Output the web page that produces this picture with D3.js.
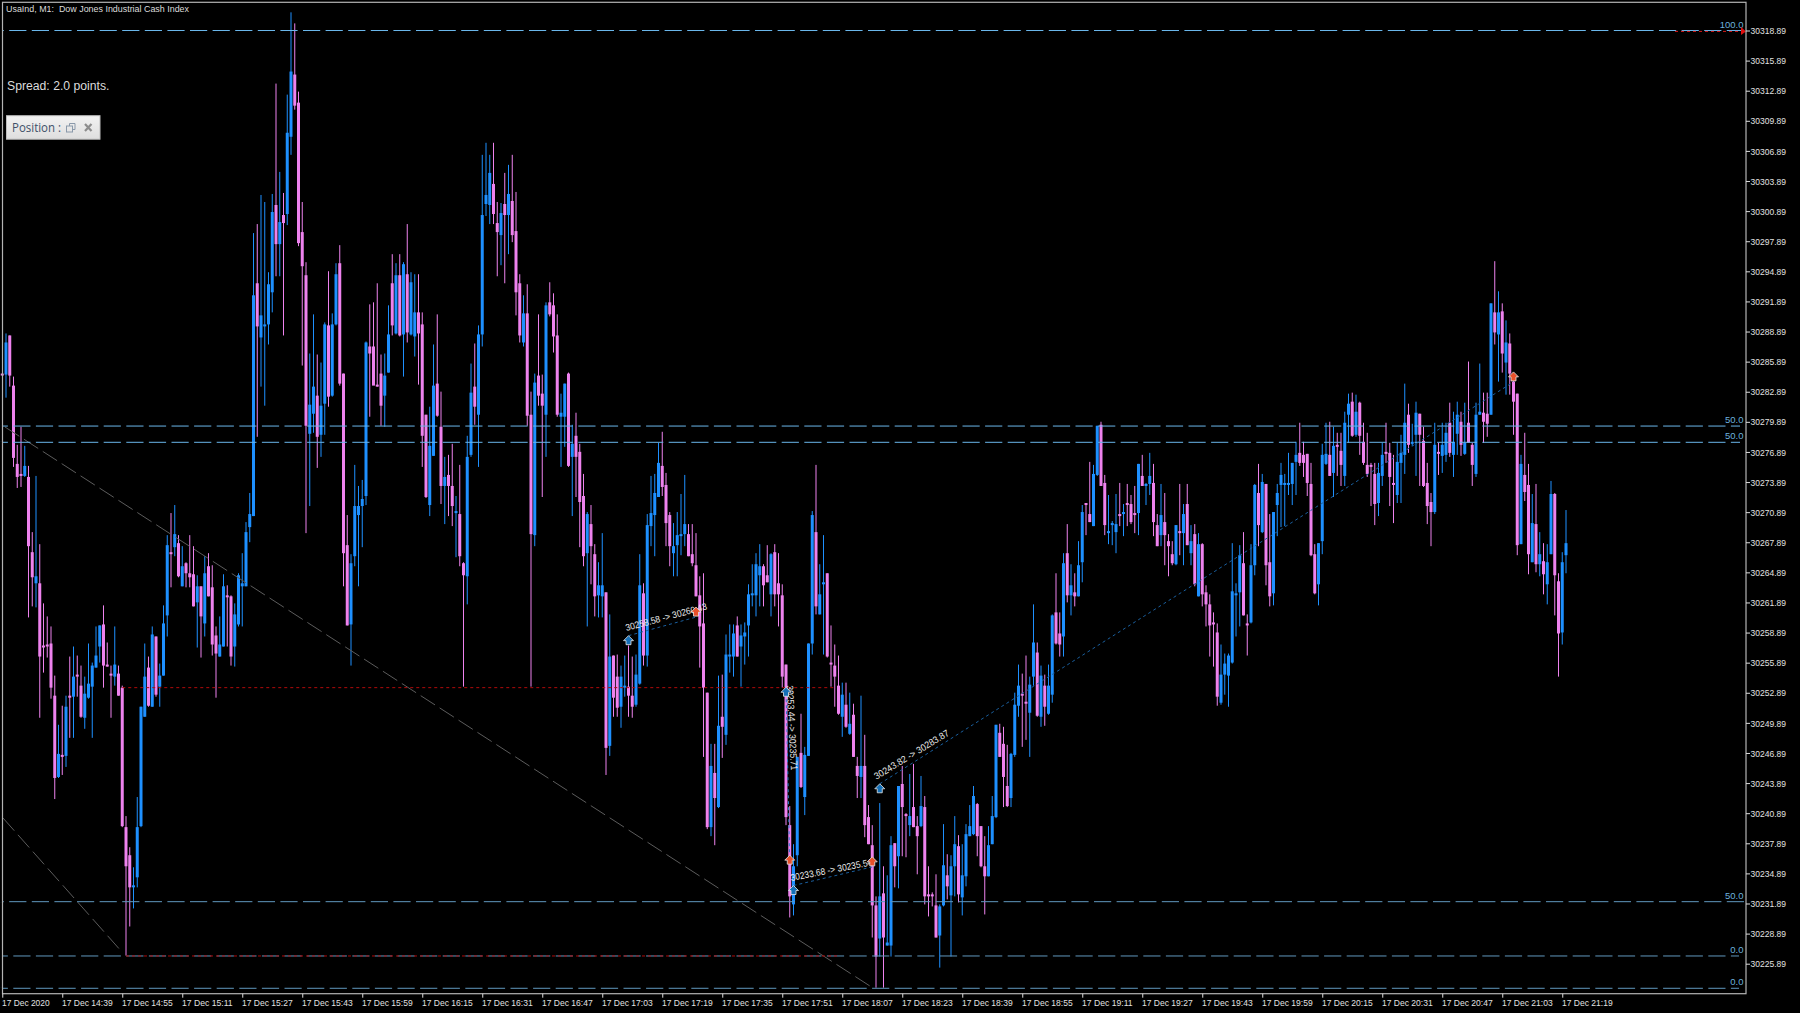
<!DOCTYPE html>
<html><head><meta charset="utf-8">
<script src="https://cdn.jsdelivr.net/npm/d3@7"></script>
<style>html,body{margin:0;padding:0;background:#000;overflow:hidden}svg{display:block}</style>
</head><body><svg id="c" width="1800" height="1013"></svg>
<script>
const priceBase = 30200;
const bodyTops = [84.7,87.8,88.5,83.5,75.7,74.7,75.5,74.4,66.9,64.5,63.8,57.6,57.7,57.8,52.6,46.8,46.7,51.5,52.6,54.5,54.7,53.6,52.8,53.8,55.6,56.6,59.6,59.7,55.7,54.8,55.7,54.8,53.4,39.5,36.7,33.7,39.5,51.5,54.5,55.4,58.7,58.5,54.6,59.8,67.6,66.9,68.7,67.8,65.5,65.8,64.8,64.7,63.5,63.5,64.8,65.5,63.4,58.6,57.7,63.5,62.6,62.5,60.7,64.6,63.8,68.9,70.7,92.5,93.7,90.5,89.6,93.6,100.8,101.5,99.8,100.5,108.7,114.8,114.5,111.7,98.8,94.5,81.6,83.4,82.5,81.5,89.6,89.5,89.6,94.6,95.7,84.7,67.6,65.8,71.5,71.5,72.2,87.8,87.4,87.4,83.6,84.7,84.5,88.6,93.7,94.5,94.5,95.6,94.6,93.8,90.8,90.8,89.6,80.6,77.5,83.5,83.7,79.4,74.4,74.6,73.5,71.0,70.7,65.8,76.4,82.8,83.4,88.6,100.5,102.5,104.7,103.6,99.7,100.7,101.6,102.6,101.9,98.9,93.7,90.7,90.7,80.6,83.8,84.5,82.7,91.5,91.8,91.5,88.5,80.8,83.7,84.7,77.7,78.5,76.9,72.5,70.7,69.7,66.7,63.6,63.6,62.9,56.5,56.6,54.5,54.5,53.6,53.5,52.6,54.7,63.6,62.8,69.6,70.8,72.8,75.8,75.5,73.6,70.6,67.5,68.6,68.7,69.7,68.7,66.7,65.6,62.6,59.8,52.9,45.6,44.9,49.6,50.5,56.7,56.7,58.8,59.6,58.6,58.9,62.7,62.8,65.7,65.5,65.5,64.6,66.7,66.9,63.8,62.6,55.7,39.7,35.6,46.5,46.9,46.7,57.8,70.6,68.9,62.7,63.9,64.8,55.9,55.6,53.6,52.7,51.7,49.8,50.7,45.6,45.6,45.6,40.5,37.7,31.7,32.6,32.9,28.0,37.7,37.9,43.6,43.8,40.8,40.6,41.5,39.6,41.6,41.5,32.8,32.8,31.7,31.6,35.7,34.7,35.6,37.8,37.6,34.7,38.8,39.6,42.6,41.8,39.6,35.6,37.7,40.6,49.7,48.9,47.8,43.6,46.8,51.7,53.6,52.8,52.0,53.7,57.9,56.9,54.6,53.6,53.6,60.6,60.9,58.8,65.8,66.8,63.6,62.9,65.6,70.9,71.8,70.7,74.7,79.5,79.6,73.8,69.0,69.8,69.7,70.7,70.9,71.8,71.7,70.8,75.7,74.5,73.7,74.5,73.8,69.6,70.6,69.9,68.0,66.7,69.6,69.0,70.7,71.7,68.0,68.7,67.7,67.7,62.9,61.7,59.9,58.9,54.7,55.8,56.6,63.0,62.8,66.6,65.8,59.8,65.6,73.6,72.8,73.9,73.7,65.9,70.9,72.8,74.6,73.8,73.8,75.8,76.6,76.8,76.6,76.7,73.7,66.7,67.8,76.6,76.7,76.6,77.5,77.6,77.0,79.8,81.7,81.9,80.9,81.8,77.9,75.6,75.6,74.7,74.8,76.6,76.9,76.8,73.8,75.9,76.8,79.8,80.6,77.9,80.8,80.7,78.0,73.8,71.9,77.6,76.9,77.6,78.8,79.8,77.9,80.6,79.9,77.8,79.8,77.6,80.6,80.9,80.8,80.7,91.7,90.8,90.8,90.9,87.8,87.7,83.9,82.7,75.7,74.6,73.6,69.8,69.7,66.7,66.0,65.9,72.7,72.7,64.0,65.9,67.8];
const bodyBottoms = [
84.6,84.6,84.5,76.3,74.4,74.5,74.5,67.5,64.4,63.8,
56.5,57.4,57.5,53.4,44.4,44.5,46.5,46.6,52.4,52.5,
54.5,50.5,50.4,52.4,53.5,55.4,57.5,55.6,55.5,54.6,
54.5,52.6,39.6,35.6,33.5,33.5,34.5,39.6,50.5,51.6,
51.5,52.7,53.5,54.6,60.6,66.7,67.4,64.5,63.5,64.8,
64.4,61.5,61.9,60.5,59.8,62.5,57.7,56.8,56.5,57.5,
62.4,56.5,57.5,59.7,63.5,63.5,69.4,70.5,89.4,88.3,
89.4,89.6,92.8,97.6,97.6,99.7,100.6,108.3,111.4,97.7,
95.4,79.5,78.7,80.7,78.4,78.6,81.7,82.4,82.5,89.6,
83.7,66.8,59.6,59.7,66.5,70.6,71.5,72.5,86.7,83.5,
83.4,81.5,82.5,84.8,89.5,88.7,88.5,88.6,88.8,88.6,
88.4,88.7,78.5,72.4,71.6,76.5,80.5,73.5,73.5,73.5,
71.5,70.8,66.5,64.6,64.5,76.6,81.4,80.6,88.6,101.6,
101.5,100.6,98.8,98.5,100.5,100.5,98.5,92.8,88.5,87.8,
80.5,68.7,68.6,82.5,81.5,80.6,90.6,88.4,80.6,80.4,
80.4,75.5,76.4,76.4,71.9,66.5,66.8,67.5,62.5,62.6,
62.5,47.4,47.6,52.4,51.4,51.5,53.4,52.6,51.5,51.7,
53.8,56.6,56.6,69.5,70.6,72.4,73.4,69.8,67.5,66.8,
67.6,68.5,68.7,66.5,65.8,62.5,59.5,53.4,39.5,39.5,
42.4,41.5,49.5,48.7,56.5,56.5,56.5,57.5,58.5,59.6,
62.6,62.6,64.6,63.6,63.9,62.7,62.7,62.7,54.5,40.5,
32.6,31.8,36.7,43.5,42.5,46.6,57.8,61.5,60.7,63.7,
56.5,55.7,54.5,50.8,50.5,49.5,48.8,46.5,44.6,44.5,
39.7,37.8,31.7,26.6,28.4,28.5,27.7,27.7,35.6,36.6,
41.5,40.6,39.7,39.5,38.6,39.6,32.6,32.6,32.6,28.5,
28.7,31.7,33.6,32.7,35.6,32.8,32.5,34.6,38.6,38.8,
38.6,35.6,34.6,34.6,37.8,40.5,46.5,44.5,41.6,42.4,
46.7,51.6,52.6,51.8,50.9,54.5,50.6,50.5,51.5,50.8,
52.7,57.8,57.7,58.5,62.6,62.6,62.5,62.5,65.9,71.6,
69.9,69.5,74.6,73.5,69.6,68.8,69.6,68.9,70.5,70.7,
71.6,69.9,70.6,70.8,73.5,73.5,73.7,69.9,67.5,68.6,
68.6,67.5,65.8,65.7,68.8,68.8,67.6,66.8,63.7,62.5,
62.7,61.7,59.6,59.7,52.5,51.9,54.7,54.6,55.9,62.6,
62.9,60.6,59.6,59.9,65.6,69.6,68.9,65.6,62.5,62.8,
71.6,73.6,73.6,73.6,73.7,75.9,75.8,75.8,73.8,66.6,
62.8,63.7,68.0,75.7,74.5,74.8,77.4,75.6,74.5,80.6,
78.5,78.6,78.5,75.8,74.7,75.4,71.7,71.8,74.5,76.7,
74.4,73.6,72.6,75.8,76.6,77.6,77.7,78.6,78.6,73.5,
71.5,70.9,70.9,76.7,76.5,76.6,76.8,76.6,78.7,77.6,
76.7,77.8,75.6,74.7,80.6,79.9,79.7,80.6,88.8,88.6,
86.7,85.8,84.7,81.9,67.6,67.7,72.9,66.7,65.9,65.7,
65.7,64.7,63.7,66.7,64.6,58.8,58.9,66.6];
const highs = [
84.7,88.7,88.5,84.4,77.6,79.4,77.5,75.5,68.9,74.5,
67.7,61.8,60.5,59.5,54.6,49.7,51.6,52.6,56.5,57.5,
56.6,55.6,54.5,57.8,55.9,59.5,59.6,61.6,57.9,55.6,
59.5,55.6,53.6,40.6,37.5,35.5,42.5,51.5,57.8,56.5,
59.5,58.5,55.8,61.6,68.6,70.8,71.6,68.6,67.5,65.9,
68.6,67.5,64.6,63.5,66.5,66.8,65.6,59.5,60.5,64.7,
63.6,62.6,61.8,64.8,66.8,69.9,72.8,98.7,99.6,102.5,
101.8,94.8,102.6,113.6,104.8,102.7,112.5,120.7,119.6,112.8,
101.8,95.8,86.7,90.6,86.6,85.8,89.8,94.9,90.7,95.7,
97.5,84.7,70.6,66.7,75.6,73.5,74.1,87.9,91.6,91.8,
93.7,86.6,86.7,91.5,96.6,95.7,96.6,95.8,99.6,94.8,
94.6,94.6,90.8,80.6,81.4,87.6,90.6,82.9,76.4,76.6,
77.7,72.5,75.6,65.9,78.5,85.7,87.7,89.5,106.5,107.7,
106.5,107.7,101.8,101.7,104.7,105.5,106.5,102.8,94.6,92.5,
93.6,82.9,84.7,90.6,84.6,91.8,93.8,92.7,90.6,82.7,
83.7,84.8,79.6,80.8,77.7,74.7,70.9,71.6,67.7,65.9,
68.8,62.9,60.7,56.6,56.7,55.6,56.6,57.6,56.5,56.7,
66.7,63.8,70.7,74.5,74.7,77.8,78.9,74.8,70.9,69.8,
70.9,72.7,74.6,69.7,69.7,68.8,64.5,64.8,52.9,47.8,
47.8,54.6,54.7,58.7,59.7,59.7,60.5,59.7,59.9,63.7,
65.7,66.8,67.7,65.7,67.6,66.8,67.7,66.8,63.7,55.7,
41.6,37.8,46.5,50.8,47.5,57.8,71.0,75.6,65.7,68.6,
64.8,59.6,57.7,56.6,53.9,53.9,52.9,51.8,46.5,52.6,
48.7,41.7,39.7,32.6,41.9,35.6,34.7,38.6,37.9,43.6,
45.6,40.9,44.8,45.8,40.6,44.6,42.6,35.6,33.0,34.8,
31.8,39.8,36.8,36.7,40.6,38.7,37.8,39.8,41.7,43.6,
41.9,39.6,38.6,39.6,42.6,49.7,49.8,49.5,47.7,46.9,
52.9,55.7,54.8,56.6,54.5,61.7,57.9,55.6,54.7,55.7,
60.7,64.8,60.9,66.8,69.7,65.7,64.8,68.0,71.6,71.8,
75.9,75.6,79.5,79.9,74.6,72.6,70.0,72.7,73.8,71.7,
73.7,72.6,73.5,75.7,76.6,73.8,76.8,75.7,70.7,73.7,
72.8,68.7,68.0,69.6,73.7,71.7,73.7,69.6,69.7,68.8,
67.8,63.6,62.7,60.9,59.8,57.7,56.8,56.8,67.8,63.8,
67.6,68.9,60.7,67.7,73.7,75.7,74.7,73.7,70.7,70.9,
73.7,75.8,74.7,76.8,75.8,77.9,79.8,77.9,76.7,75.8,
67.7,67.8,77.7,79.8,79.9,79.4,78.8,78.8,80.9,82.7,
82.8,82.6,81.9,79.8,78.8,75.8,75.8,75.8,77.8,79.8,
77.8,76.6,77.8,78.6,83.7,81.7,79.7,81.9,80.7,79.4,
75.8,72.8,79.8,77.8,79.8,79.8,81.8,80.9,81.9,80.9,
81.8,85.9,77.8,81.8,85.7,82.8,82.8,91.7,95.9,92.9,
91.7,90.0,88.7,84.7,82.7,76.6,78.8,75.7,72.7,73.7,
68.9,67.8,67.7,74.0,72.8,64.8,66.9,71.1];
const lows = [
84.6,82.3,83.4,75.4,73.3,73.4,74.4,60.4,61.5,61.4,
50.4,54.9,56.4,52.3,42.3,44.4,44.7,45.5,48.4,48.4,
52.5,50.4,49.3,52.3,48.4,55.4,55.9,53.4,55.5,50.4,
53.6,52.6,39.5,26.7,29.6,31.4,33.5,39.5,50.5,51.5,
51.5,52.5,51.5,54.6,58.5,63.4,66.5,64.4,63.5,63.4,
63.4,61.5,57.4,56.4,58.5,62.5,56.6,52.4,56.5,57.5,
57.5,55.6,55.5,59.5,59.5,63.5,67.9,70.5,78.4,83.4,
81.5,87.6,90.8,94.4,94.4,88.5,99.5,106.5,111.0,97.4,
85.5,68.8,71.5,78.8,75.3,76.4,78.6,81.4,82.4,89.5,
83.5,63.5,59.6,55.6,65.5,63.5,67.4,71.6,80.4,83.6,
83.4,79.5,79.4,84.8,88.5,88.6,88.4,84.4,87.8,88.5,
86.4,83.6,75.4,72.3,70.5,76.5,80.4,71.7,69.7,70.5,
69.5,66.4,65.5,53.5,61.7,76.4,79.6,75.4,87.4,100.4,
99.6,99.6,94.4,95.5,93.7,96.6,97.8,90.5,87.8,87.4,
79.5,53.5,67.5,81.5,72.4,76.4,90.4,86.8,80.4,75.4,
77.4,75.4,70.5,72.4,67.4,65.5,59.5,63.7,60.5,60.4,
60.4,44.7,46.6,50.5,50.5,49.4,52.5,50.5,50.4,51.5,
53.7,55.6,55.5,67.5,66.5,72.4,72.5,67.5,65.5,64.5,
64.5,66.6,67.5,66.5,65.5,62.5,55.4,46.5,39.3,38.6,
37.7,41.4,46.4,47.7,54.9,54.5,56.5,53.5,55.7,56.5,
61.5,60.5,61.5,61.5,63.9,60.5,61.5,59.5,53.4,39.7,
30.5,30.7,35.6,43.4,40.7,46.6,56.7,60.7,60.7,56.7,
56.4,53.5,51.5,50.7,48.5,49.4,48.7,46.5,42.4,42.4,
38.5,37.8,28.5,23.5,26.6,23.5,27.7,26.6,33.5,33.4,
36.6,36.5,38.6,39.5,34.8,39.5,31.8,30.6,31.6,28.5,
25.5,31.6,32.3,26.6,32.6,32.0,30.7,33.6,38.6,38.7,
36.6,35.5,30.8,34.6,37.8,40.4,46.5,41.5,41.5,41.5,
46.5,50.5,47.5,48.2,46.5,53.6,50.5,49.5,49.6,50.7,
51.9,57.7,56.5,56.5,61.9,60.6,61.5,62.5,63.9,68.6,
69.9,69.5,74.5,73.5,68.6,67.7,67.6,66.8,69.5,68.5,
69.5,69.7,68.8,68.6,73.5,71.6,72.6,68.5,67.5,67.5,
65.6,64.5,65.6,65.6,66.6,65.6,67.6,65.6,63.5,62.5,
61.5,59.5,56.5,55.5,51.6,51.7,52.7,51.5,55.8,58.5,
59.5,60.6,56.6,59.8,64.6,67.5,68.8,63.6,61.5,61.6,
68.5,69.4,69.5,72.6,71.6,72.6,75.5,74.4,72.5,66.5,
62.7,61.6,66.7,75.6,74.5,72.4,74.5,73.5,73.5,77.8,
78.4,78.4,76.6,75.6,74.4,71.5,69.6,70.5,73.5,75.8,
71.5,69.8,71.8,71.8,74.7,76.8,77.5,74.5,73.5,73.4,
69.7,67.5,70.7,74.6,74.8,75.9,76.4,74.4,76.6,76.5,
76.6,77.8,73.5,74.4,80.6,77.8,78.4,80.6,87.6,83.9,
84.8,82.6,82.6,78.6,66.6,67.7,72.0,64.7,65.9,64.9,
64.5,62.7,61.7,66.7,60.6,54.5,57.7,64.8];
const bullish = [
"0100001001","0000010101","0011111000","1000011110","1011101010","0010100011","0011111101","1110101100","0011011011","0001111100",
"0011010101","1000110010","0100110111","1001010001","0010010001","1010001001","1010011001","1011110001","1110000001","0101110111",
"1110010000","0110111011","0000101001","0000101101","0010010000","1101101111","0001110001","1100110101","1001010110","0110011101",
"0001011001","0001010101","0000011111","1001101001","1111110000","0111010011","0100000110","0011101100","0010110110","1001100101",
"0100010010","10110011"].join("");
const timeLabels = ["17 Dec 2020","17 Dec 14:39","17 Dec 14:55","17 Dec 15:11","17 Dec 15:27","17 Dec 15:43","17 Dec 15:59","17 Dec 16:15","17 Dec 16:31","17 Dec 16:47","17 Dec 17:03","17 Dec 17:19","17 Dec 17:35","17 Dec 17:51","17 Dec 18:07","17 Dec 18:23","17 Dec 18:39","17 Dec 18:55","17 Dec 19:11","17 Dec 19:27","17 Dec 19:43","17 Dec 19:59","17 Dec 20:15","17 Dec 20:31","17 Dec 20:47","17 Dec 21:03","17 Dec 21:19"];
const priceTicks = d3.range(0,32).map(k=>30225.89+3*k);
const fibPrices = [30318.89,30279.47,30277.85,30232.07,30226.66,30223.44];
const fibLabels = ["100.0","50.0","50.0","50.0","0.0","0.0"];
const tradeEntry = [30258.58,30253.44,30233.68,30243.82];
const tradeExit = [30260.43,30235.71,30235.54,30283.87];
const tradeEntryBar = [167,209,211,234];
const tradeExitBar = [185,210,232,403];

const svg = d3.select("#c");
const barStep = 3.75;
const x = d3.scaleLinear().domain([0,1]).range([2.25,2.25+barStep]);
const y = d3.scaleLinear().domain([30225.89,30318.89]).range([963.7,30.5]);
const p = v => y(priceBase+v);
const BLUE="#1e90ff", PINK="#ee82ee";

const n = Math.min(bodyTops.length,bodyBottoms.length,highs.length,lows.length,bullish.length);
const candles = d3.range(n).map(i=>({i,top:bodyTops[i],bot:bodyBottoms[i],hi:highs[i],lo:lows[i],up:bullish[i]==="1"}));
const cg = svg.append("g");
cg.selectAll("rect.w").data(candles).join("rect").attr("class","w")
  .attr("x",d=>x(d.i)-0.5).attr("width",1)
  .attr("y",d=>p(d.hi)).attr("height",d=>Math.max(1,p(d.lo)-p(d.hi)))
  .attr("fill",d=>d.up?BLUE:PINK);
cg.selectAll("rect.b").data(candles).join("rect").attr("class","b")
  .attr("x",d=>x(d.i)-1.5).attr("width",3)
  .attr("y",d=>p(d.top)).attr("height",d=>Math.max(2,p(d.bot)-p(d.top)))
  .attr("fill",d=>d.up?BLUE:PINK);

const trendG = svg.append("g").attr("stroke","#5c5c5c").attr("stroke-width",1).attr("stroke-dasharray","17 5.5").attr("fill","none");
trendG.append("line").attr("x1",5).attr("y1",427).attr("x2",873).attr("y2",988);
trendG.append("line").attr("x1",3).attr("y1",818).attr("x2",122).attr("y2",952);

const fibEnd=[1745,1740,1740,1746,1739,1739], fibStart=[9.2,13.3,13.3,9.2,13.3,13.3];
const fg = svg.append("g");
fibPrices.forEach((pr,k)=>{
  const col = k<3?"#6ab6ea":"#6098be";
  fg.append("line").attr("x1",fibStart[k]-22.6).attr("x2",fibEnd[k]).attr("y1",y(pr)).attr("y2",y(pr))
    .attr("stroke",col).attr("stroke-width",1).attr("stroke-dasharray","17.2 5.4");
  fg.append("rect").attr("x",0).attr("y",y(pr)-1).attr("width",2).attr("height",2).attr("fill","#000");
  fg.append("text").attr("x",1743.5).attr("y",y(pr)-3).attr("text-anchor","end")
    .attr("font-family","Liberation Sans").attr("font-size",9.5).attr("fill","#6cb0de").text(fibLabels[k]);
});

const redG = svg.append("g").attr("stroke","#b00a0a").attr("stroke-width",1).attr("stroke-dasharray","3 3").attr("fill","none");
redG.append("line").attr("x1",x(32)).attr("x2",x(221.6)).attr("y1",y(30253.4)).attr("y2",y(30253.4));
redG.append("line").attr("x1",x(33)).attr("x2",x(222.9)).attr("y1",y(30226.66)).attr("y2",y(30226.66));
redG.append("line").attr("x1",1675).attr("x2",1742).attr("y1",y(30318.8)).attr("y2",y(30318.8)).attr("stroke","#d81818");
svg.append("path").attr("d","M1741 27 L1746 31.5 L1741 35 Z").attr("fill","#e01010");

const tg = svg.append("g");
const labelOff = [[-3,-8,-15,84],[4,-2,87,85],[-3,-8,-11,83],[-5,-7,-31.5,86]];
tradeEntry.forEach((e,k)=>{
  const x1=x(tradeEntryBar[k]),y1=y(e),x2=x(tradeExitBar[k]),y2=y(tradeExit[k]);
  tg.append("line").attr("x1",x1).attr("y1",y1).attr("x2",x2).attr("y2",y2)
    .attr("stroke",k===1?"#2a7fd0":"#1a5f9e").attr("stroke-width",1).attr("stroke-dasharray","3 3");
  const [dx,dy,rot,len]=labelOff[k];
  tg.append("text").attr("transform",`translate(${x1+dx},${y1+dy}) rotate(${rot})`)
    .attr("dominant-baseline","central").attr("font-family","Liberation Sans").attr("font-size",9.5)
    .attr("textLength",len).attr("lengthAdjust","spacingAndGlyphs").attr("fill","#e8e8e8")
    .text(`${e.toFixed(2)} -> ${tradeExit[k].toFixed(2)}`);
  const mark=(mx,my,fill)=>{
    tg.append("path").attr("transform",`translate(${mx},${my})`).attr("d","M0 -5 L5 0 L2.5 0 L2.5 4 L-2.5 4 L-2.5 0 L-5 0 Z")
      .attr("fill",fill).attr("stroke","#e8e8e8").attr("stroke-width",0.8);
  };
  mark(x1,y1+5,"#1570b8");
  mark(x2,y2-5,"#e8502a");
});

svg.append("rect").attr("x",2.5).attr("y",2.3).attr("width",1743.5).attr("height",991.4)
  .attr("fill","none").attr("stroke","#b4b4b4").attr("stroke-width",1.2);

const yAxis = d3.axisRight(y).tickValues(priceTicks).tickSize(4).tickPadding(1).tickFormat(d3.format(".2f"));
const yg = svg.append("g").attr("transform","translate(1746,0)").call(yAxis);
const xAxis = d3.axisBottom(x).tickValues(timeLabels.map((_,k)=>k*16)).tickSize(4).tickPadding(0).tickFormat((_,k)=>timeLabels[k]);
const xg = svg.append("g").attr("transform","translate(0,993.7)").call(xAxis);
[yg,xg].forEach(g=>{
  g.select(".domain").remove();
  g.selectAll(".tick line").attr("stroke","#dcdcdc");
  g.selectAll("text").attr("fill","#e2e2e2").attr("font-family","Liberation Sans").attr("font-size",9.8)
    .attr("lengthAdjust","spacingAndGlyphs");
});
yg.selectAll("text").attr("textLength",35.5).attr("x",4.6);
xg.selectAll("text").attr("text-anchor","start").attr("dy",0).attr("y",12)
  .attr("x",-0.8).attr("textLength",(_,k)=>k===0?47.7:50.7);

svg.append("text").attr("x",6).attr("y",12).attr("font-family","Liberation Sans").attr("font-size",9.5)
  .attr("textLength",183).attr("lengthAdjust","spacingAndGlyphs").attr("fill","#dcdcdc").attr("xml:space","preserve")
  .text("UsaInd, M1:  Dow Jones Industrial Cash Index");
svg.append("text").attr("x",7).attr("y",90).attr("font-family","Liberation Sans").attr("font-size",12)
  .attr("textLength",102.5).attr("lengthAdjust","spacingAndGlyphs").attr("fill","#dcdcdc").text("Spread: 2.0 points.");

const pn = svg.append("g");
const grad = svg.append("defs").append("linearGradient").attr("id","pg").attr("x1",0).attr("x2",0).attr("y1",0).attr("y2",1);
grad.append("stop").attr("offset",0).attr("stop-color","#f2f2f2");
grad.append("stop").attr("offset",1).attr("stop-color","#dedede");
pn.append("rect").attr("x",6.5).attr("y",115.7).attr("width",93.5).attr("height",23.5).attr("fill","url(#pg)").attr("stroke","#bcbcbc").attr("stroke-width",1);
pn.append("text").attr("x",12).attr("y",132).attr("font-family","Open Sans").attr("font-size",12).attr("fill","#3e5068")
  .attr("textLength",49).attr("lengthAdjust","spacingAndGlyphs").text("Position :");
pn.append("rect").attr("x",66.5).attr("y",126).attr("width",6).attr("height",6).attr("fill","none").attr("stroke","#8a99aa");
pn.append("path").attr("d","M69.5 126 V123.5 H75 V129.5 H72.5").attr("fill","none").attr("stroke","#8a99aa");
pn.append("path").attr("d","M85 124 L91.5 131 M91.5 124 L85 131").attr("stroke","#8d8d8d").attr("stroke-width",2.2);
</script></body></html>
